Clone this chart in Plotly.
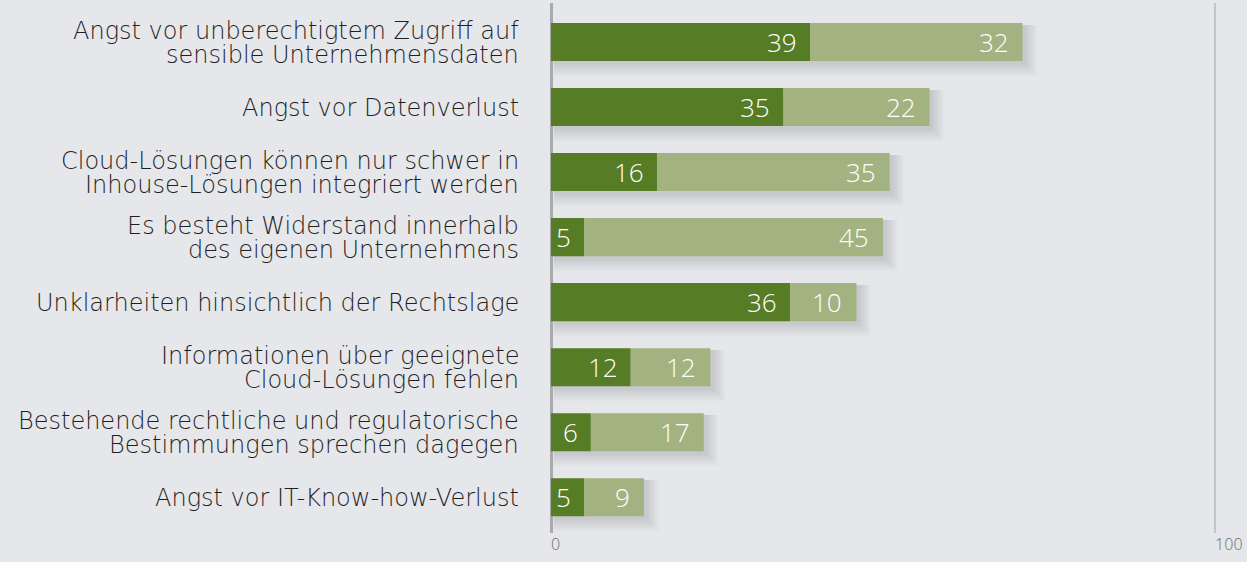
import plotly.graph_objects as go

categories = [
    ["Angst vor unberechtigtem Zugriff auf", "sensible Unternehmensdaten"],
    ["Angst vor Datenverlust"],
    ["Cloud-Lösungen können nur schwer in", "Inhouse-Lösungen integriert werden"],
    ["Es besteht Widerstand innerhalb", "des eigenen Unternehmens"],
    ["Unklarheiten hinsichtlich der Rechtslage"],
    ["Informationen über geeignete", "Cloud-Lösungen fehlen"],
    ["Bestehende rechtliche und regulatorische", "Bestimmungen sprechen dagegen"],
    ["Angst vor IT-Know-how-Verlust"],
]
series_dark = [39, 35, 16, 5, 36, 12, 6, 5]
series_light = [32, 22, 35, 45, 10, 12, 17, 9]
x_ticks = [0, 100]

DARK = "#567c26"
LIGHT = "#a2b280"
BG = "#e6e7eb"
LABEL_FONT = "DejaVu Sans"
VALUE_FONT = "Open Sans"

ypos = list(range(len(categories)))
totals = [d + l for d, l in zip(series_dark, series_light)]

fig = go.Figure()
fig.add_trace(go.Bar(y=ypos, x=series_dark, orientation="h", marker=dict(color=DARK, line=dict(width=0)),
                     width=0.585, hoverinfo="skip"))
fig.add_trace(go.Bar(y=ypos, x=series_light, base=series_dark, orientation="h",
                     marker=dict(color=LIGHT, line=dict(width=0)), width=0.585, hoverinfo="skip"))

PX = 100 / 665.0
shapes = []
for i, t in enumerate(totals):
    for k in range(1, 11):
        s = k * 1.3
        shapes.append(dict(type="rect", xref="x", yref="y", ysizemode="pixel", yanchor=i,
                           x0=0.4, x1=t + (2 + s) * PX, y0=-(19 + 2 + s), y1=17,
                           fillcolor="rgba(60,60,75,0.014)", line=dict(width=0), layer="below"))

annotations = []
for i, lines in enumerate(categories):
    n = len(lines)
    for j, ln in enumerate(lines):
        off = (n - 1) / 2.0 * 24 - j * 24
        annotations.append(dict(x=0, xref="x", y=i, yref="y", text=ln, showarrow=False,
                                xanchor="right", yanchor="middle", xshift=-30, yshift=off - 1,
                                font=dict(family=LABEL_FONT, size=24, color="#1f1f1f", weight=300)))
for i, (d, l) in enumerate(zip(series_dark, series_light)):
    annotations.append(dict(x=d, xref="x", y=i, yref="y", text=str(d), showarrow=False,
                            xanchor="right", yanchor="middle", xshift=-11, yshift=0,
                            font=dict(family=VALUE_FONT, size=26, color="white", weight=300)))
    annotations.append(dict(x=d + l, xref="x", y=i, yref="y", text=str(l), showarrow=False,
                            xanchor="right", yanchor="middle", xshift=-12, yshift=0,
                            font=dict(family=VALUE_FONT, size=26, color="white", weight=300)))

fig.update_layout(
    barmode="overlay",
    width=1247, height=562,
    paper_bgcolor=BG, plot_bgcolor=BG,
    margin=dict(l=550, r=2, t=3, b=29),
    showlegend=False,
    shapes=shapes,
    annotations=annotations,
    xaxis=dict(range=[-0.15, 104.5], tickvals=x_ticks, ticktext=[str(v) for v in x_ticks],
               showgrid=True, gridcolor="#c4c5c9", gridwidth=2,
               zeroline=True, zerolinecolor="#a9aaae", zerolinewidth=3,
               ticks="", ticklabelposition="outside right",
               tickfont=dict(family=VALUE_FONT, size=16, color="#6b6b6b", weight=300),
               showline=False, fixedrange=True),
    yaxis=dict(range=[7.55, -0.6], showticklabels=False, showgrid=False, zeroline=False,
               ticks="", fixedrange=True),
)

fig.write_html("out.html", config={"displayModeBar": False},
               post_script="document.body.style.margin='0px';document.body.style.background='" + BG + "';")
